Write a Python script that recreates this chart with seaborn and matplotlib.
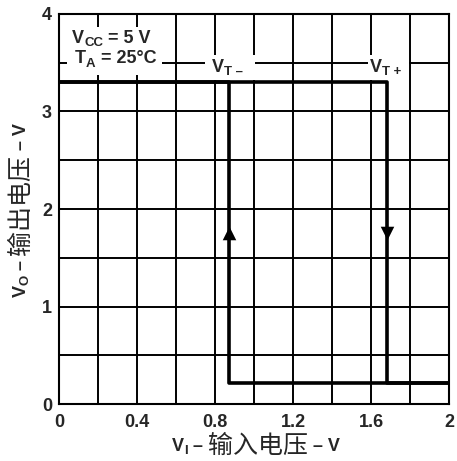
import matplotlib
matplotlib.use("Agg")
import numpy as np
import pandas as pd
import matplotlib.pyplot as plt
import seaborn as sns
from matplotlib import font_manager
from matplotlib.patches import Rectangle
from matplotlib.transforms import Bbox

# ---------------- data ----------------
x_ticks = [0, 0.4, 0.8, 1.2, 1.6, 2]
x_tick_labels = ["0", "0.4", "0.8", "1.2", "1.6", "2"]
x_minor = [0.2, 0.6, 1.0, 1.4, 1.8]
y_ticks = [0, 1, 2, 3, 4]
y_tick_labels = ["0", "1", "2", "3", "4"]
y_minor = [0.5, 1.5, 2.5, 3.5]

v_oh = 3.3          # output high level
v_ol = 0.22         # output low level
vt_minus = 0.87     # negative-going threshold
vt_plus = 1.68      # positive-going threshold
vi_min, vi_max = 0.0, 2.0
arrow_level = 1.75

# increasing input sweep: high until VT+, then low
sweep_up_x = [vi_min, vt_plus, vt_plus, vi_max]
sweep_up_y = [v_oh, v_oh, v_ol, v_ol]
# decreasing input sweep: low until VT-, then high
sweep_down_x = [vi_max, vt_minus, vt_minus, vi_min]
sweep_down_y = [v_ol, v_ol, v_oh, v_oh]

# ---------------- style ----------------
sns.set_style("white")
names = {f.name for f in font_manager.fontManager.ttflist}
LATIN = "Liberation Sans Narrow" if "Liberation Sans Narrow" in names else "Liberation Sans"
CJK = "Noto Sans CJK SC"
plt.rcParams['font.family'] = [LATIN, CJK, 'DejaVu Sans']

W, H = 457, 461
fig = plt.figure(figsize=(W / 100, H / 100), dpi=100)
ax = fig.add_axes([59 / W, 1 - 404 / H, 390 / W, 390 / H])

df_up = pd.DataFrame({"vi": sweep_up_x, "vo": sweep_up_y})
df_down = pd.DataFrame({"vi": sweep_down_x, "vo": sweep_down_y})
sns.lineplot(data=df_up, x="vi", y="vo", sort=False, estimator=None,
             color="black", lw=2.6, ax=ax, zorder=3)
sns.lineplot(data=df_down, x="vi", y="vo", sort=False, estimator=None,
             color="black", lw=2.6, ax=ax, zorder=3)
sns.scatterplot(x=[vt_minus], y=[arrow_level], marker="^", s=95,
                color="black", linewidth=0, ax=ax, zorder=4)
sns.scatterplot(x=[vt_plus], y=[arrow_level], marker="v", s=95,
                color="black", linewidth=0, ax=ax, zorder=4)

ax.set_xlim(vi_min, vi_max)
ax.set_ylim(0, 4)
ax.set_xticks(x_ticks)
ax.set_xticklabels(x_tick_labels)
ax.set_xticks(x_minor, minor=True)
ax.set_yticks(y_ticks)
ax.set_yticklabels(y_tick_labels)
ax.set_yticks(y_minor, minor=True)
ax.set_axisbelow(True)
ax.grid(True, which="both", color="black", lw=1.4)
ax.tick_params(which="both", length=0)
ax.tick_params(axis="x", pad=7)
ax.tick_params(axis="y", pad=5)
for lab in ax.get_xticklabels() + ax.get_yticklabels():
    lab.set_fontsize(13)
    lab.set_fontweight("bold")
    lab.set_family(LATIN)
for s in ax.spines.values():
    s.set_color("black")
    s.set_linewidth(1.5)
ax.set_xlabel("")
ax.set_ylabel("")

# white masks behind annotation texts (grid interruptions)
for (x0, y0, w, h) in [(0.04, 3.37, 0.49, 0.50), (0.75, 3.32, 0.255, 0.26),
                       (1.585, 3.32, 0.208, 0.26)]:
    ax.add_patch(Rectangle((x0, y0), w, h, facecolor="white", edgecolor="none", zorder=1))


def chain(pieces, x, y, transform, rotation=0):
    arts = []
    base = prev = None
    for s, size, weight, fam, sub in pieces:
        kw = dict(fontsize=size, fontweight=weight, family=fam, rotation=rotation, zorder=5)
        if prev is None:
            t = ax.text(x, y, s, transform=transform,
                        ha="left" if rotation == 0 else "center",
                        va="center" if rotation == 0 else "bottom", **kw)
            base = t
        elif rotation == 0:
            t = ax.annotate(s, xy=(1, 0.22 if sub else 0.5), xycoords=(prev, base),
                            ha="left", va="center", annotation_clip=False, **kw)
        else:
            t = ax.annotate(s, xy=(0.78 if sub else 0.5, 1), xycoords=(base, prev),
                            ha="center", va="bottom", annotation_clip=False, **kw)
        arts.append(t)
        prev = t
    return arts


B = "bold"
chain([("V", 13, B, LATIN, False), ("CC", 9.5, B, LATIN, True), (" = 5 V", 13, B, LATIN, False)],
      0.067, 3.75, ax.transData)
chain([("T", 13, B, LATIN, False), ("A", 9.5, B, LATIN, True), (" = 25°C", 13, B, LATIN, False)],
      0.082, 3.54, ax.transData)
chain([("V", 13, B, LATIN, False), ("T –", 9.5, B, LATIN, True)], 0.785, 3.45, ax.transData)
chain([("V", 13, B, LATIN, False), ("T +", 9.5, B, LATIN, True)], 1.595, 3.45, ax.transData)

xl = chain([("V", 13, B, LATIN, False), ("I", 9.5, B, LATIN, True), (" – ", 13, B, LATIN, False),
            ("输入电压", 18, "normal", CJK, False), (" – V", 13, B, LATIN, False)],
           0.35, 0.03, fig.transFigure)
yl = chain([("V", 13, B, LATIN, False), ("O", 9.5, B, LATIN, True), (" – ", 13, B, LATIN, False),
            ("输出电压", 18, "normal", CJK, False), (" – V", 13, B, LATIN, False)],
           0.045, 0.3, fig.transFigure, rotation=90)


def recenter(arts, cx, cy):
    fig.canvas.draw()
    r = fig.canvas.get_renderer()
    bb = Bbox.union([a.get_window_extent(r) for a in arts])
    dx = cx - (bb.x0 + bb.x1) / 2
    dy = cy - (bb.y0 + bb.y1) / 2
    x, y = arts[0].get_position()
    arts[0].set_position((x + dx / W, y + dy / H))


recenter(xl, 256, H - 446)
recenter(yl, 21, H - 210)

fig.savefig("out.png", dpi=100, facecolor="white")
